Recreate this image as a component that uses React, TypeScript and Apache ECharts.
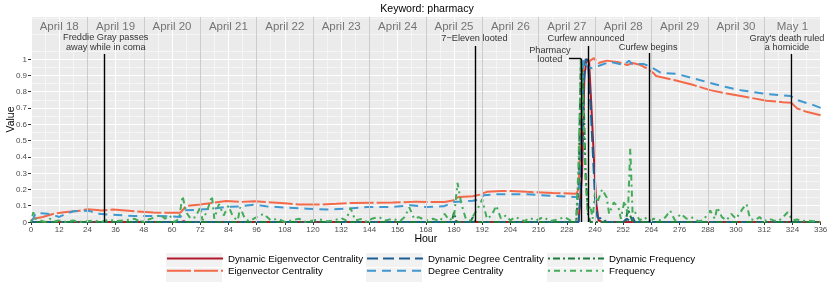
import React, { useEffect, useRef } from 'react';
import * as echarts from 'echarts';

const chartTitle = 'Keyword: pharmacy';
const xAxisName = 'Hour';
const yAxisName = 'Value';
const valueTicks = [0, 0.1, 0.2, 0.3, 0.4, 0.5, 0.6, 0.7, 0.8, 0.9, 1];
const dayLabels = ['April 18', 'April 19', 'April 20', 'April 21', 'April 22', 'April 23', 'April 24', 'April 25', 'April 26', 'April 27', 'April 28', 'April 29', 'April 30', 'May 1'];
const dayCenters = [12, 36, 60, 84, 108, 132, 156, 180, 204, 228, 252, 276, 300, 324];
const dayBoundaries = [24, 48, 72, 96, 120, 144, 168, 192, 216, 240, 264, 288, 312];

const seriesNames = [
  'Dynamic Eigenvector Centrality',
  'Eigenvector Centrality',
  'Dynamic Degree Centrality',
  'Degree Centrality',
  'Dynamic Frequency',
  'Frequency',
];

const dynamicEigenvector: [number, number][] = [
  [0, 0], [64, 0], [65, 0.005], [66, 0], [180, 0], [181, 0.004], [182, 0], [233, 0], [234.5, 0.3], [235.5, 0.9], [236.5, 1.0], [237.5, 0.98],
  [238.5, 0.7], [239.5, 0.4], [240.5, 0.12], [241.5, 0.01], [243, 0], [336, 0],
];

const eigenvector: [number, number][] = [
  [0, 0.01], [1, 0.02], [5, 0.031], [10, 0.052], [15, 0.062], [20, 0.068], [24, 0.078], [28, 0.074], [30, 0.07], [35, 0.076],
  [44, 0.066], [52, 0.058], [60, 0.056], [63.5, 0.056], [64.5, 0.072], [66, 0.098], [72, 0.107], [78, 0.119], [83, 0.129],
  [89, 0.123], [95, 0.127], [100, 0.123], [108, 0.115], [114, 0.107], [123, 0.107], [130, 0.112], [136, 0.117], [145, 0.118],
  [154, 0.119], [164, 0.125], [170, 0.123], [176, 0.123], [180, 0.133], [182, 0.154], [188, 0.158], [191, 0.168], [194, 0.185],
  [200, 0.19], [204, 0.19], [211, 0.185], [222, 0.178], [232, 0.174], [233, 0.2], [234, 0.55], [235, 0.95], [236, 0.99],
  [238, 0.99], [239.5, 1.005], [241.5, 0.975], [245, 0.99], [250, 0.98], [253.7, 0.963], [256, 0.975], [259.4, 0.963],
  [262, 0.943], [265, 0.912], [266, 0.896], [273.6, 0.871], [282, 0.84], [289, 0.809], [296, 0.789], [305, 0.765],
  [313, 0.744], [320, 0.735], [323.5, 0.731], [326, 0.697], [330, 0.676], [336, 0.655],
];

const dynamicDegree: [number, number][] = [
  [0, 0], [233, 0], [234, 0.2], [235, 0.8], [236, 1.0], [237, 0.99], [238, 0.75], [239, 0.45], [240, 0.15], [241, 0.03],
  [242, 0.02], [243, 0.03], [244, 0.01], [245, 0], [252, 0], [253.5, 0.02], [254.5, 0.01], [256, 0.03], [257, 0], [336, 0],
];

const degree: [number, number][] = [
  [0, 0], [1, 0.02], [2, 0.055], [7, 0.051], [10, 0.041], [12, 0.031], [15, 0.051], [18, 0.066], [22, 0.07], [25, 0.068],
  [28, 0.051], [34, 0.045], [44, 0.037], [52, 0.037], [60, 0.034], [63.6, 0.031], [65.7, 0.072], [72, 0.076], [78, 0.082],
  [83, 0.092], [89, 0.096], [95, 0.107], [100, 0.096], [109, 0.088], [117.5, 0.082], [126, 0.076], [134.5, 0.082], [143, 0.092],
  [154, 0.092], [161.5, 0.103], [168, 0.092], [175.6, 0.096], [180, 0.123], [188, 0.13], [190.5, 0.137], [192.7, 0.164],
  [198, 0.17], [211, 0.17], [222.5, 0.16], [231, 0.154], [233, 0.155], [234, 0.5], [235, 1.0], [236, 0.97], [237, 0.95],
  [238.8, 0.943], [242, 0.96], [246.4, 0.983], [252.3, 0.963], [254.4, 0.99], [255.8, 0.97], [260.8, 0.969], [263.6, 0.953],
  [267.9, 0.916], [275, 0.908], [282, 0.881], [295, 0.83], [302, 0.809], [313, 0.785], [323.2, 0.773], [326, 0.748],
  [333, 0.717], [336, 0.7],
];

const dynamicFrequency: [number, number][] = [
  [0, 0], [45, 0], [46, 0.01], [47, 0], [179, 0], [180, 0.06], [181, 0], [187, 0], [188, 0.03], [189, 0], [232, 0],
  [233, 0.25], [234, 1.0], [235, 0.85], [236, 0.3], [237, 0.05], [238, 0], [253, 0], [254, 0.08], [255, 0.04], [256, 0],
  [336, 0],
];

const frequency: [number, number][] = [
  [0, 0], [1, 0.06], [2, 0.02], [4, 0.01], [6, 0], [8, 0.02], [10, 0.005], [12, 0.01], [15, 0], [18, 0.01], [20, 0],
  [24, 0.005], [27, 0.01], [30, 0], [33, 0.015], [36, 0.005], [40, 0.01], [44, 0.02], [47, 0], [50, 0.015], [53, 0.03],
  [55, 0.045], [57, 0.02], [59, 0.04], [61, 0], [63, 0.02], [64.5, 0.16], [66, 0.06], [68, 0.02], [70, 0.03], [72, 0.09],
  [73, 0.01], [75, 0.07], [77, 0.16], [78, 0.02], [80, 0.11], [82, 0.04], [84, 0.1], [86, 0.03], [88, 0.01], [89, 0.09],
  [91, 0.02], [93, 0.005], [96, 0.03], [99, 0.05], [102, 0.01], [105, 0.02], [108, 0], [111, 0.01], [114, 0.02], [117, 0],
  [120, 0.01], [123, 0.015], [126, 0.005], [129, 0.01], [132, 0.025], [134, 0.01], [136, 0.085], [138, 0.01], [141, 0.02],
  [143, 0], [145, 0.02], [148, 0.03], [151, 0.01], [154, 0.02], [157, 0.005], [159, 0.03], [161, 0.09], [163, 0.02],
  [165, 0.03], [168, 0.01], [171, 0.02], [174, 0.005], [176, 0.05], [178, 0.01], [180, 0.03], [181.5, 0.24], [183, 0.12],
  [185, 0.02], [187, 0.01], [190, 0.08], [192, 0.14], [194, 0.02], [196, 0.04], [198, 0.1], [200, 0.02], [202, 0.04],
  [204, 0.01], [206, 0.03], [208, 0.02], [210, 0.005], [212, 0.025], [215, 0.01], [218, 0.03], [221, 0.005], [224, 0.015],
  [227, 0.03], [230, 0.005], [232, 0.01], [233, 0.35], [234, 1.0], [235, 0.7], [236, 0.25], [237, 0.06], [238, 0.1],
  [239, 0.02], [240, 0.18], [241, 0.12], [243, 0.2], [245, 0.15], [246, 0.05], [248, 0.12], [250, 0.09], [251, 0.02],
  [252.5, 0.13], [254, 0.05], [255, 0.45], [256, 0.05], [257, 0.06], [259, 0.01], [261, 0.03], [263, 0.005], [265, 0.02],
  [268, 0.01], [270, 0.03], [272, 0.07], [274, 0.01], [276.5, 0.05], [279, 0.02], [281, 0.03], [284, 0.005], [286, 0.01],
  [289, 0.07], [291, 0.02], [292, 0.09], [294, 0.03], [296, 0.01], [298, 0.05], [300, 0.02], [303, 0.085], [304.5, 0.11],
  [306, 0.02], [308, 0.01], [310, 0.03], [312, 0.005], [314, 0.02], [316, 0.01], [318, 0.005], [320, 0.03], [322, 0.06],
  [324, 0.01], [326, 0.015], [328, 0.005], [330, 0.01], [333, 0.005], [336, 0],
];

const eventLabels = [
  'Freddie Gray passes\naway while in coma',
  '7\u2212Eleven looted',
  'Pharmacy\nlooted',
  'Curfew announced',
  'Curfew begins',
  "Gray's death ruled\na homicide",
];
const eventHours = [31, 189, 234, 237, 263, 323.5];

// layout of the annotations (data coordinates of label centres and line tops)
const eventLabelPos: [number, number][] = [[31.8, 1.104], [188.7, 1.129], [220.8, 1.027], [236.2, 1.129], [262.6, 1.075], [321.7, 1.101]];
const eventLineTop = [1.031, 1.08, 1.003, 1.08, 1.037, 1.031];
const pharmacyConnectorStart = 228.9;

const FONT = '"Liberation Sans", Arial, Helvetica, sans-serif';

const colors = ['#b2182b', '#f4694a', '#1c5e91', '#3f98d0', '#1f7a3f', '#44ab5b'];
const dashes: any[] = ['solid', [24, 3], [11, 5], [9, 6], [2, 3, 7, 3], [2, 4, 6, 4]];
const seriesData = [dynamicEigenvector, eigenvector, dynamicDegree, degree, dynamicFrequency, frequency];

export default function App() {
  const ref = useRef<HTMLDivElement>(null);
  useEffect(() => {
    if (!ref.current) return;
    const chart = echarts.init(ref.current, undefined, { renderer: 'svg' });

    const dataSeries = seriesNames.map((name, i) => ({
      name,
      type: 'line',
      data: seriesData[i],
      showSymbol: false,
      symbol: 'none',
      z: 3,
      lineStyle: { color: colors[i], width: 2, type: dashes[i] },
      itemStyle: { color: colors[i] },
    }));

    const eventLines: any[] = eventHours.map((h, i) => {
      if (i === 2) return null;
      return [{ coord: [h, 0] }, { coord: [h, eventLineTop[i]] }];
    }).filter(Boolean);
    eventLines.push([{ coord: [pharmacyConnectorStart, eventLineTop[2]] }, { coord: [eventHours[2], eventLineTop[2]] }]);
    eventLines.push([{ coord: [eventHours[2], eventLineTop[2]] }, { coord: [eventHours[2], 0] }]);

    const legendBase = {
      orient: 'vertical',
      top: 253,
      itemWidth: 56,
      itemHeight: 14,
      itemGap: 1,
      padding: 0,
      selectedMode: false,
      textStyle: { fontSize: 9.7, color: '#000', fontFamily: FONT },
      lineStyle: { width: 2 },
      itemStyle: { opacity: 0 },
    };

    chart.setOption({
      animation: false,
      textStyle: { fontFamily: FONT },
      grid: {
        left: 31, right: 9.4, top: 17, bottom: 75, show: true, backgroundColor: '#ebebeb', borderWidth: 0,
        containLabel: false, outerBoundsMode: 'none',
      },
      graphic: [
        { type: 'text', x: 427, y: 8, style: { text: chartTitle, align: 'center', verticalAlign: 'middle', fontSize: 10.6, fill: '#000', fontFamily: FONT } },
        { type: 'rect', shape: { x: 166, y: 253, width: 56, height: 14 }, style: { fill: '#f2f2f2' }, z: -1 },
        { type: 'rect', shape: { x: 166, y: 268, width: 56, height: 14 }, style: { fill: '#f2f2f2' }, z: -1 },
        { type: 'rect', shape: { x: 366, y: 253, width: 56, height: 14 }, style: { fill: '#f2f2f2' }, z: -1 },
        { type: 'rect', shape: { x: 366, y: 268, width: 56, height: 14 }, style: { fill: '#f2f2f2' }, z: -1 },
        { type: 'rect', shape: { x: 547, y: 253, width: 56, height: 14 }, style: { fill: '#f2f2f2' }, z: -1 },
        { type: 'rect', shape: { x: 547, y: 268, width: 56, height: 14 }, style: { fill: '#f2f2f2' }, z: -1 },
      ],
      legend: [
        { ...legendBase, left: 166, data: [seriesNames[0], seriesNames[1]] },
        { ...legendBase, left: 366, data: [seriesNames[2], seriesNames[3]] },
        { ...legendBase, left: 547, data: [seriesNames[4], seriesNames[5]] },
      ],
      xAxis: {
        type: 'value',
        min: 0,
        max: 336,
        interval: 12,
        name: xAxisName,
        nameLocation: 'middle',
        nameGap: 10,
        nameMoveOverlap: false,
        nameTextStyle: { fontSize: 10.5, color: '#000', fontFamily: FONT },
        axisLine: { show: false },
        axisTick: { show: true, length: 3, lineStyle: { color: '#333', width: 1 } },
        axisLabel: { fontSize: 8, color: '#4d4d4d', margin: 3, fontFamily: FONT },
        splitLine: { show: true, lineStyle: { color: '#ffffff', width: 1 } },
        minorTick: { show: false, splitNumber: 2 },
        minorSplitLine: { show: true, lineStyle: { color: '#ffffff', width: 0.5 } },
      },
      yAxis: {
        type: 'value',
        min: 0,
        max: 1.2577,
        interval: 0.1,
        name: yAxisName,
        nameLocation: 'middle',
        nameGap: 16,
        nameMoveOverlap: false,
        nameRotate: 90,
        nameTextStyle: { fontSize: 10.5, color: '#000', fontFamily: FONT },
        axisLine: { show: false },
        axisTick: { show: true, length: 3, lineStyle: { color: '#333', width: 1 }, customValues: valueTicks },
        axisLabel: {
          fontSize: 8, color: '#4d4d4d', margin: 4, fontFamily: FONT, customValues: valueTicks,
          formatter: (v: number) => (v > 1.0001 ? '' : String(+v.toFixed(1))),
        },
        splitLine: { show: true, lineStyle: { color: '#ffffff', width: 1 } },
        minorTick: { show: false, splitNumber: 2 },
        minorSplitLine: { show: true, lineStyle: { color: '#ffffff', width: 0.5 } },
      },
      series: [
        {
          type: 'line',
          data: [],
          z: 1,
          silent: true,
          markLine: {
            silent: true,
            symbol: ['none', 'none'],
            label: { show: false },
            lineStyle: { color: '#cccccc', width: 1, type: 'solid' },
            data: dayBoundaries.map((h) => ({ xAxis: h })),
          },
        },
        ...dataSeries,
        {
          type: 'line',
          data: [],
          z: 5,
          silent: true,
          markLine: {
            silent: true,
            symbol: ['none', 'none'],
            label: { show: false },
            lineStyle: { color: '#000', width: 1.4, type: 'solid' },
            data: eventLines,
          },
        },
        {
          type: 'scatter',
          z: 6,
          silent: true,
          symbolSize: 1,
          itemStyle: { color: 'rgba(0,0,0,0)' },
          data: dayLabels.map((d, i) => ({ name: d, value: [dayCenters[i], 1.202] })),
          label: {
            show: true, position: 'inside', formatter: '{b}', fontSize: 11.5, color: '#555',
            align: 'center', verticalAlign: 'middle', fontFamily: FONT,
          },
        },
        {
          type: 'scatter',
          z: 6,
          silent: true,
          symbolSize: 1,
          itemStyle: { color: 'rgba(0,0,0,0)' },
          data: eventLabels.map((t, i) => ({ name: t, value: eventLabelPos[i] })),
          label: {
            show: true, position: 'inside', formatter: '{b}', fontSize: 9.2, lineHeight: 9.4, color: '#000',
            align: 'center', verticalAlign: 'middle', fontFamily: FONT,
          },
        },
      ],
    });
    return () => chart.dispose();
  }, []);
  return <div ref={ref} style={{ position: 'fixed', left: 0, top: 0, width: 830, height: 297 }} />;
}
